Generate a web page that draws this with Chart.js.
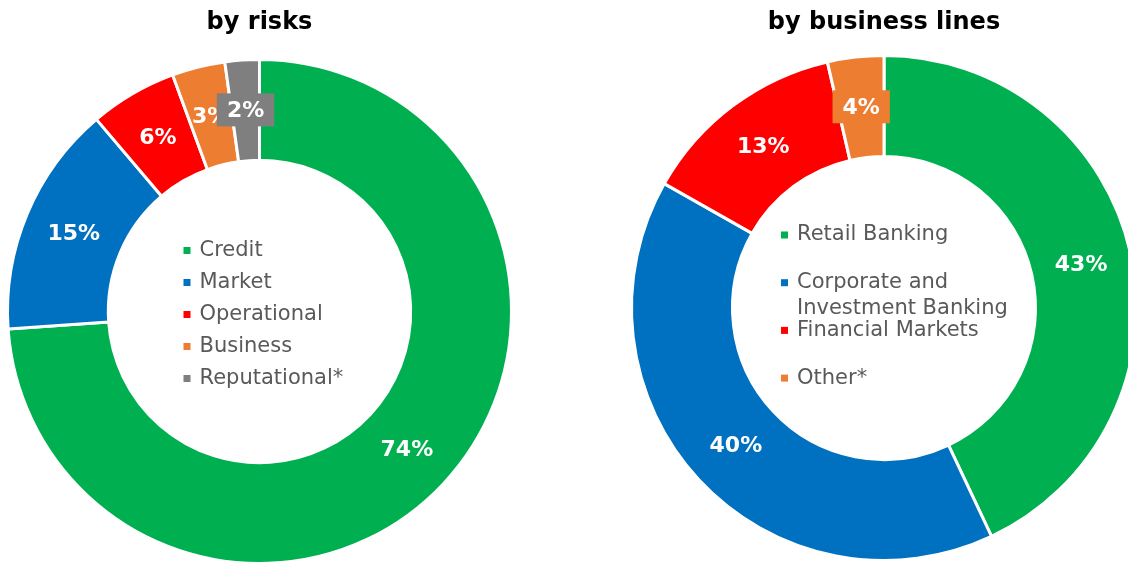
<!DOCTYPE html>
<html>
<head>
<meta charset="utf-8">
<script src="https://cdn.jsdelivr.net/npm/chart.js@4.4.1/dist/chart.umd.min.js"></script>
<style>
  html, body { margin: 0; padding: 0; background: #fff; overflow: hidden; }
  #wrap { position: relative; width: 1128px; height: 562px; overflow: hidden; }
  #risks { position: absolute; left: 0; top: 0; }
  #lines { position: absolute; left: 620px; top: 0; }
</style>
</head>
<body>
<div id="wrap">
  <canvas id="risks" width="520" height="570"></canvas>
  <canvas id="lines" width="530" height="570"></canvas>
</div>
<script>
// data (shares in %)
const riskLabels = ['Credit', 'Market', 'Operational', 'Business', 'Reputational*'];
const riskValues = [73.9, 14.9, 5.6, 3.4, 2.2];
const riskColors = ['#00B050', '#0070C0', '#FF0000', '#ED7D31', '#7F7F7F'];

const lineLabels = ['Retail Banking', ['Corporate and', 'Investment Banking'], 'Financial Markets', 'Other*'];
const lineValues = [43.0, 40.2, 13.2, 3.6];
const lineColors = ['#00B050', '#0070C0', '#FF0000', '#ED7D31'];

const FONT = '"DejaVu Sans", Verdana, sans-serif';

// percentage labels inside the ring
const sliceLabels = {
  id: 'sliceLabels',
  afterDatasetsDraw(chart, args, opts) {
    const ctx = chart.ctx;
    const ds = chart.data.datasets[0];
    const total = ds.data.reduce((a, b) => a + b, 0);
    ctx.save();
    ctx.font = 'bold 22px ' + FONT;
    ctx.textAlign = 'center';
    ctx.textBaseline = 'middle';
    chart.getDatasetMeta(0).data.forEach((arc, i) => {
      const p = arc.getCenterPoint();
      const txt = Math.round(ds.data[i] / total * 100) + '%';
      if (opts.boxed && opts.boxed[i]) {
        const w = ctx.measureText(txt).width + 20;
        ctx.fillStyle = ds.backgroundColor[i];
        ctx.fillRect(p.x - w / 2, p.y - 17, w, 33);
      }
      ctx.fillStyle = '#fff';
      ctx.fillText(txt, p.x, p.y + 1);
    });
    ctx.restore();
  }
};

// legend drawn in the hole of the doughnut
const centerLegend = {
  id: 'centerLegend',
  afterDraw(chart, args, opts) {
    const ctx = chart.ctx;
    const arc = chart.getDatasetMeta(0).data[0];
    const colors = chart.data.datasets[0].backgroundColor;
    ctx.save();
    ctx.font = '21px ' + FONT;
    ctx.textAlign = 'left';
    ctx.textBaseline = 'middle';
    chart.data.labels.forEach((lab, i) => {
      const lines = Array.isArray(lab) ? lab : [lab];
      const y = arc.y + opts.top + i * opts.step;
      ctx.fillStyle = colors[i];
      ctx.fillRect(arc.x + opts.left, y - 3.5, 7, 7);
      ctx.fillStyle = '#595959';
      lines.forEach((t, j) => ctx.fillText(t, arc.x + opts.left + 16, y + j * 26));
    });
    ctx.restore();
  }
};

function makeDonut(id, title, labels, values, colors, pad, titlePad, legend, boxed) {
  return new Chart(document.getElementById(id), {
    type: 'doughnut',
    data: {
      labels: labels,
      datasets: [{
        data: values,
        backgroundColor: colors,
        borderColor: '#fff',
        borderWidth: 3
      }]
    },
    options: {
      responsive: false,
      animation: false,
      cutout: '60%',
      layout: { padding: pad },
      plugins: {
        legend: { display: false },
        tooltip: { enabled: false },
        title: {
          display: true,
          text: title,
          color: '#000',
          font: { family: FONT, size: 24, weight: 'bold' },
          padding: titlePad
        },
        centerLegend: legend,
        sliceLabels: { boxed: boxed }
      }
    },
    plugins: [sliceLabels, centerLegend]
  });
}

makeDonut('risks', 'by risks', riskLabels, riskValues, riskColors,
  { left: 6, right: 7, top: 0, bottom: 5 }, { top: 8.6, bottom: 20.6 },
  { left: -76, top: -61, step: 32 },
  [false, false, false, false, true]);

makeDonut('lines', 'by business lines', lineLabels, lineValues, lineColors,
  { left: 10, right: 12, top: 0, bottom: 8 }, { top: 8.6, bottom: 16.6 },
  { left: -103, top: -73, step: 47.7 },
  [false, false, false, true]);
</script>
</body>
</html>
